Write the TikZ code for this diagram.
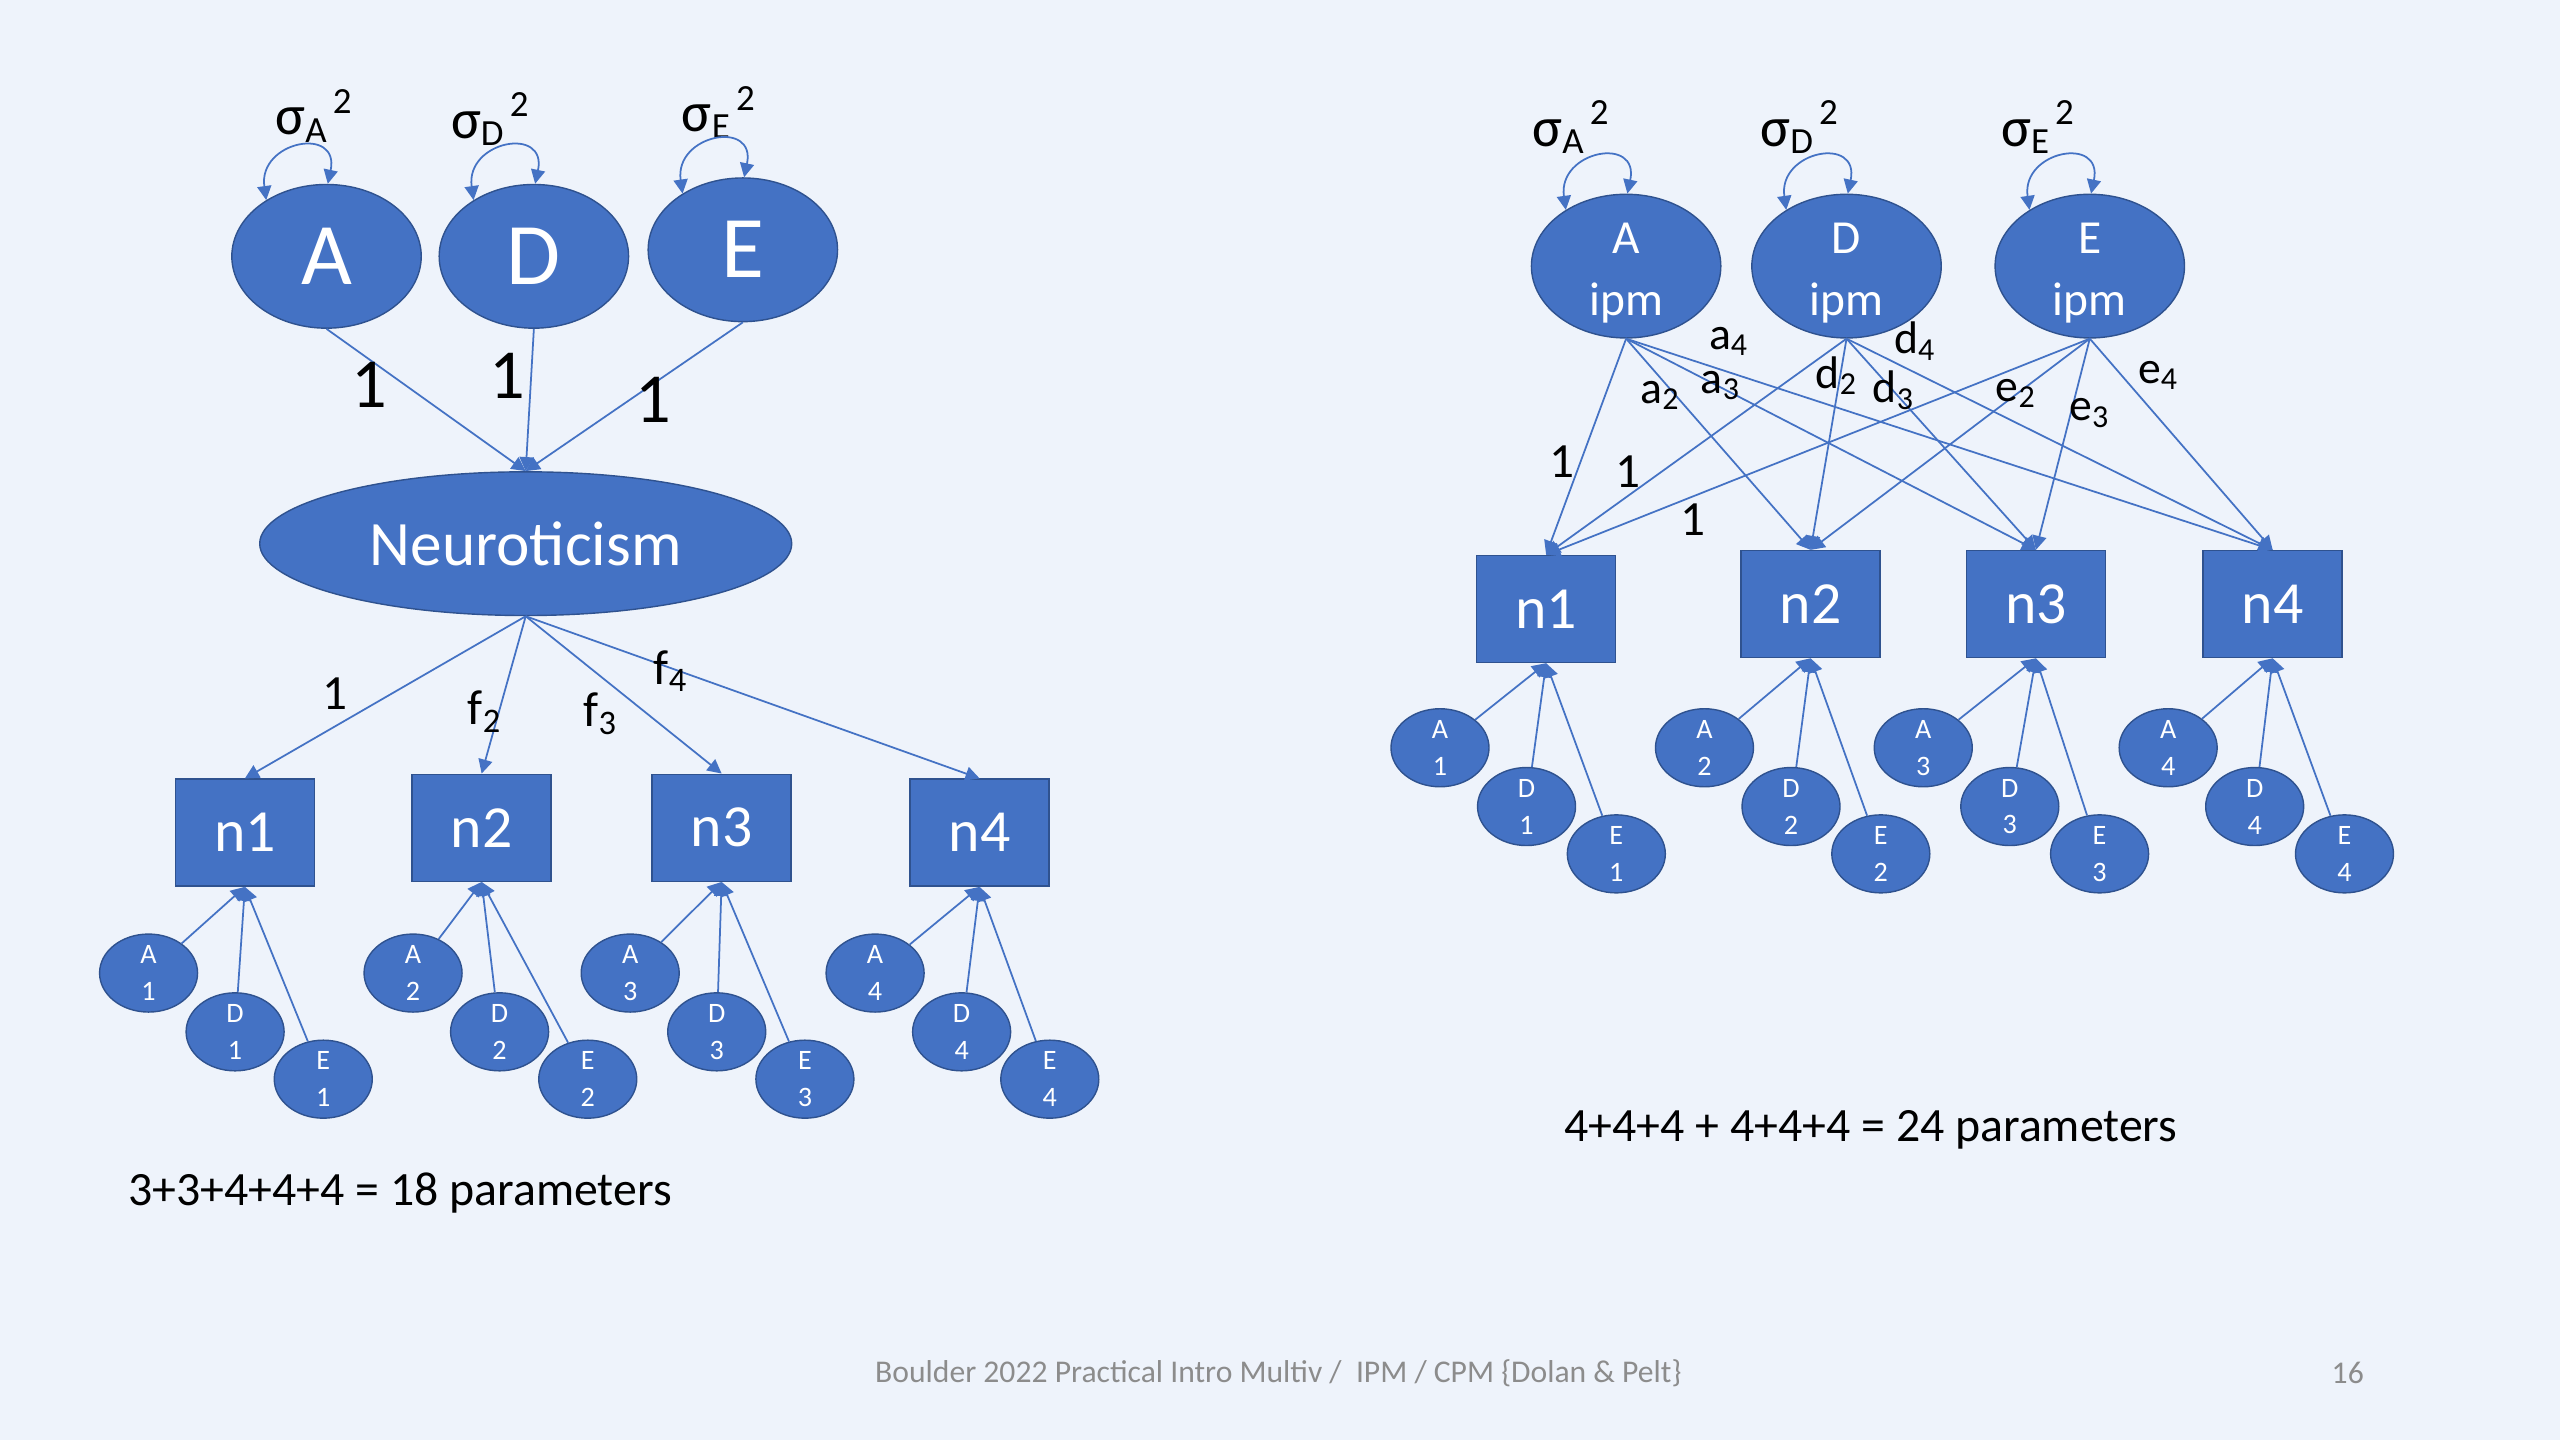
\documentclass[tikz,border=0pt]{standalone}
\usepackage{fontspec}
\setmainfont{Carlito}
\usetikzlibrary{shapes.geometric,arrows.meta}
\definecolor{slidebg}{HTML}{EEF3FB}
\definecolor{nodeblue}{HTML}{4472C4}
\definecolor{edgeblue}{HTML}{2F528F}
\definecolor{footgray}{HTML}{8C8C8C}
\newcommand{\sigsq}[1]{σ\raisebox{-.13em}{\fontsize{10.5}{12}\selectfont #1}\raisebox{.38em}{\fontsize{10.5}{12}\selectfont\,2}}
\newcommand{\ipmtext}[1]{\raisebox{3.7pt}[0pt][0pt]{\makebox[0pt]{#1}}\raisebox{-14pt}[0pt][0pt]{\makebox[0pt]{ipm}}}
\begin{document}
\begin{tikzpicture}
[x=0.016327cm,y=-0.016327cm,
 lat/.style={ellipse,draw=edgeblue,fill=nodeblue,text=white,inner sep=0pt,minimum width=1.894cm,minimum height=1.437cm},
 obs/.style={rectangle,draw=edgeblue,fill=nodeblue,text=white,inner sep=0pt,minimum width=1.39cm,minimum height=1.07cm,font=\fontsize{17}{20}\selectfont},
 res/.style={ellipse,draw=edgeblue,fill=nodeblue,text=white,inner sep=0pt,minimum width=0.98cm,minimum height=0.78cm,align=center,font=\fontsize{8}{10.5}\selectfont},
 link/.style={nodeblue,line width=0.5pt,-{Triangle[length=4pt,width=4pt]}},
 var/.style={nodeblue,line width=0.5pt,{Triangle[length=4pt,width=4pt]}-{Triangle[length=4pt,width=4pt]}},
 lbl/.style={inner sep=0pt,font=\fontsize{14}{16}\selectfont},
 sig/.style={inner sep=0pt,font=\fontsize{16}{18}\selectfont}]
\useasboundingbox[fill=slidebg] (0,0) rectangle (1568,882);

% left: common pathway
\node[lat,font=\fontsize{25}{30}\selectfont] (la) at (200,157) {A};
\node[lat,font=\fontsize{25}{30}\selectfont] (ld) at (327,157) {D};
\node[lat,font=\fontsize{25}{30}\selectfont] (le) at (455,153) {E};
\node[lat,minimum width=5.32cm,font=\fontsize{18}{22}\selectfont] (neu) at (322,333) {Neuroticism};
\node[sig] (sla) at (192,71) {\sigsq{A}};
\node[sig] (sld) at (300,73) {\sigsq{D}};
\node[sig] (sle) at (440,69) {\sigsq{E}};
\foreach \s in {la,ld,le}
  \draw[var] (\s.137) to[out=98,in=78,looseness=2.4] (\s.89);
\foreach \s in {la,ld,le}
  \draw[link] (\s.south) -- (neu.north);
\node[lbl,font=\fontsize{20}{24}\selectfont] (l1a) at (226,236) {1};
\node[lbl,font=\fontsize{20}{24}\selectfont] (l1d) at (311,230) {1};
\node[lbl,font=\fontsize{20}{24}\selectfont] (l1e) at (400,245) {1};
\foreach \i/\x/\y in {1/150/510,2/295/507,3/442/507,4/600/510}
{
  \node[obs] (ln\i) at (\x,\y) {n\i};
  \draw[link] (neu.south) -- (ln\i.north);
}
\node[lbl] (f1) at (205,425) {1};
\node[lbl] (f2) at (297,436) {f\textsubscript{2}};
\node[lbl] (f3) at (368,437) {f\textsubscript{3}};
\node[lbl] (f4) at (411,411) {f\textsubscript{4}};
\foreach \i/\x in {1/91,2/253,3/386,4/536}
{
  \node[res] (lsa\i) at (\x,596) {A\\\i};
  \node[res] (lsd\i) at (\x+53,632) {D\\\i};
  \node[res] (lse\i) at (\x+107,661) {E\\\i};
  \draw[link] (lsa\i) -- (ln\i.south);
  \draw[link] (lsd\i) -- (ln\i.south);
  \draw[link] (lse\i) -- (ln\i.south);
}
\node[inner sep=0pt,font=\fontsize{13.6}{16}\selectfont] (lpar) at (245,731) {3+3+4+4+4 = 18 parameters};

% right: independent pathway
\node[lat,font=\fontsize{13.5}{18}\selectfont] (ra) at (996,163) {\ipmtext{A}};
\node[lat,font=\fontsize{13.5}{18}\selectfont] (rd) at (1131,163) {\ipmtext{D}};
\node[lat,font=\fontsize{13.5}{18}\selectfont] (re) at (1280,163) {\ipmtext{E}};
\node[sig] (sra) at (962,78) {\sigsq{A}};
\node[sig] (srd) at (1102,78) {\sigsq{D}};
\node[sig] (sre) at (1248,78) {\sigsq{E}};
\foreach \s in {ra,rd,re}
  \draw[var] (\s.137) to[out=98,in=78,looseness=2.4] (\s.89);
\foreach \i/\x/\y in {1/947/373,2/1109/370,3/1247/370,4/1392/370}
  \node[obs] (rn\i) at (\x,\y) {n\i};
\foreach \s in {ra,rd,re}
  \foreach \i in {1,...,4}
    \draw[link] (\s.south) -- (rn\i.north);
\node[lbl] (r1a) at (957,283) {1};
\node[lbl] (r1d) at (997,289) {1};
\node[lbl] (r1e) at (1037,318) {1};
\node[lbl,font=\fontsize{13}{15}\selectfont] (ra2) at (1017,242) {a\textsubscript{2}};
\node[lbl,font=\fontsize{13}{15}\selectfont] (ra3) at (1054,236) {a\textsubscript{3}};
\node[lbl,font=\fontsize{13}{15}\selectfont] (ra4) at (1059,209) {a\textsubscript{4}};
\node[lbl,font=\fontsize{13}{15}\selectfont] (rd2) at (1125,230) {d\textsubscript{2}};
\node[lbl,font=\fontsize{13}{15}\selectfont] (rd3) at (1160,239) {d\textsubscript{3}};
\node[lbl,font=\fontsize{13}{15}\selectfont] (rd4) at (1173,209) {d\textsubscript{4}};
\node[lbl,font=\fontsize{13}{15}\selectfont] (re2) at (1235,241) {e\textsubscript{2}};
\node[lbl,font=\fontsize{13}{15}\selectfont] (re3) at (1280,253) {e\textsubscript{3}};
\node[lbl,font=\fontsize{13}{15}\selectfont] (re4) at (1322,230) {e\textsubscript{4}};
\foreach \i/\x in {1/882,2/1044,3/1178,4/1328}
{
  \node[res] (rsa\i) at (\x,458) {A\\\i};
  \node[res] (rsd\i) at (\x+53,494) {D\\\i};
  \node[res] (rse\i) at (\x+108,523) {E\\\i};
  \draw[link] (rsa\i) -- (rn\i.south);
  \draw[link] (rsd\i) -- (rn\i.south);
  \draw[link] (rse\i) -- (rn\i.south);
}
\node[inner sep=0pt,font=\fontsize{13.6}{16}\selectfont] (rpar) at (1146,692) {4+4+4 + 4+4+4 = 24 parameters};

% footer
\node[inner sep=0pt,text=footgray,font=\fontsize{9}{11}\selectfont] (foot) at (783,841) {Boulder 2022 Practical Intro Multiv /\ \ IPM / CPM \{Dolan \& Pelt\}};
\node[inner sep=0pt,text=footgray,font=\fontsize{9}{11}\selectfont] (page) at (1438,841) {16};
\end{tikzpicture}
\end{document}
